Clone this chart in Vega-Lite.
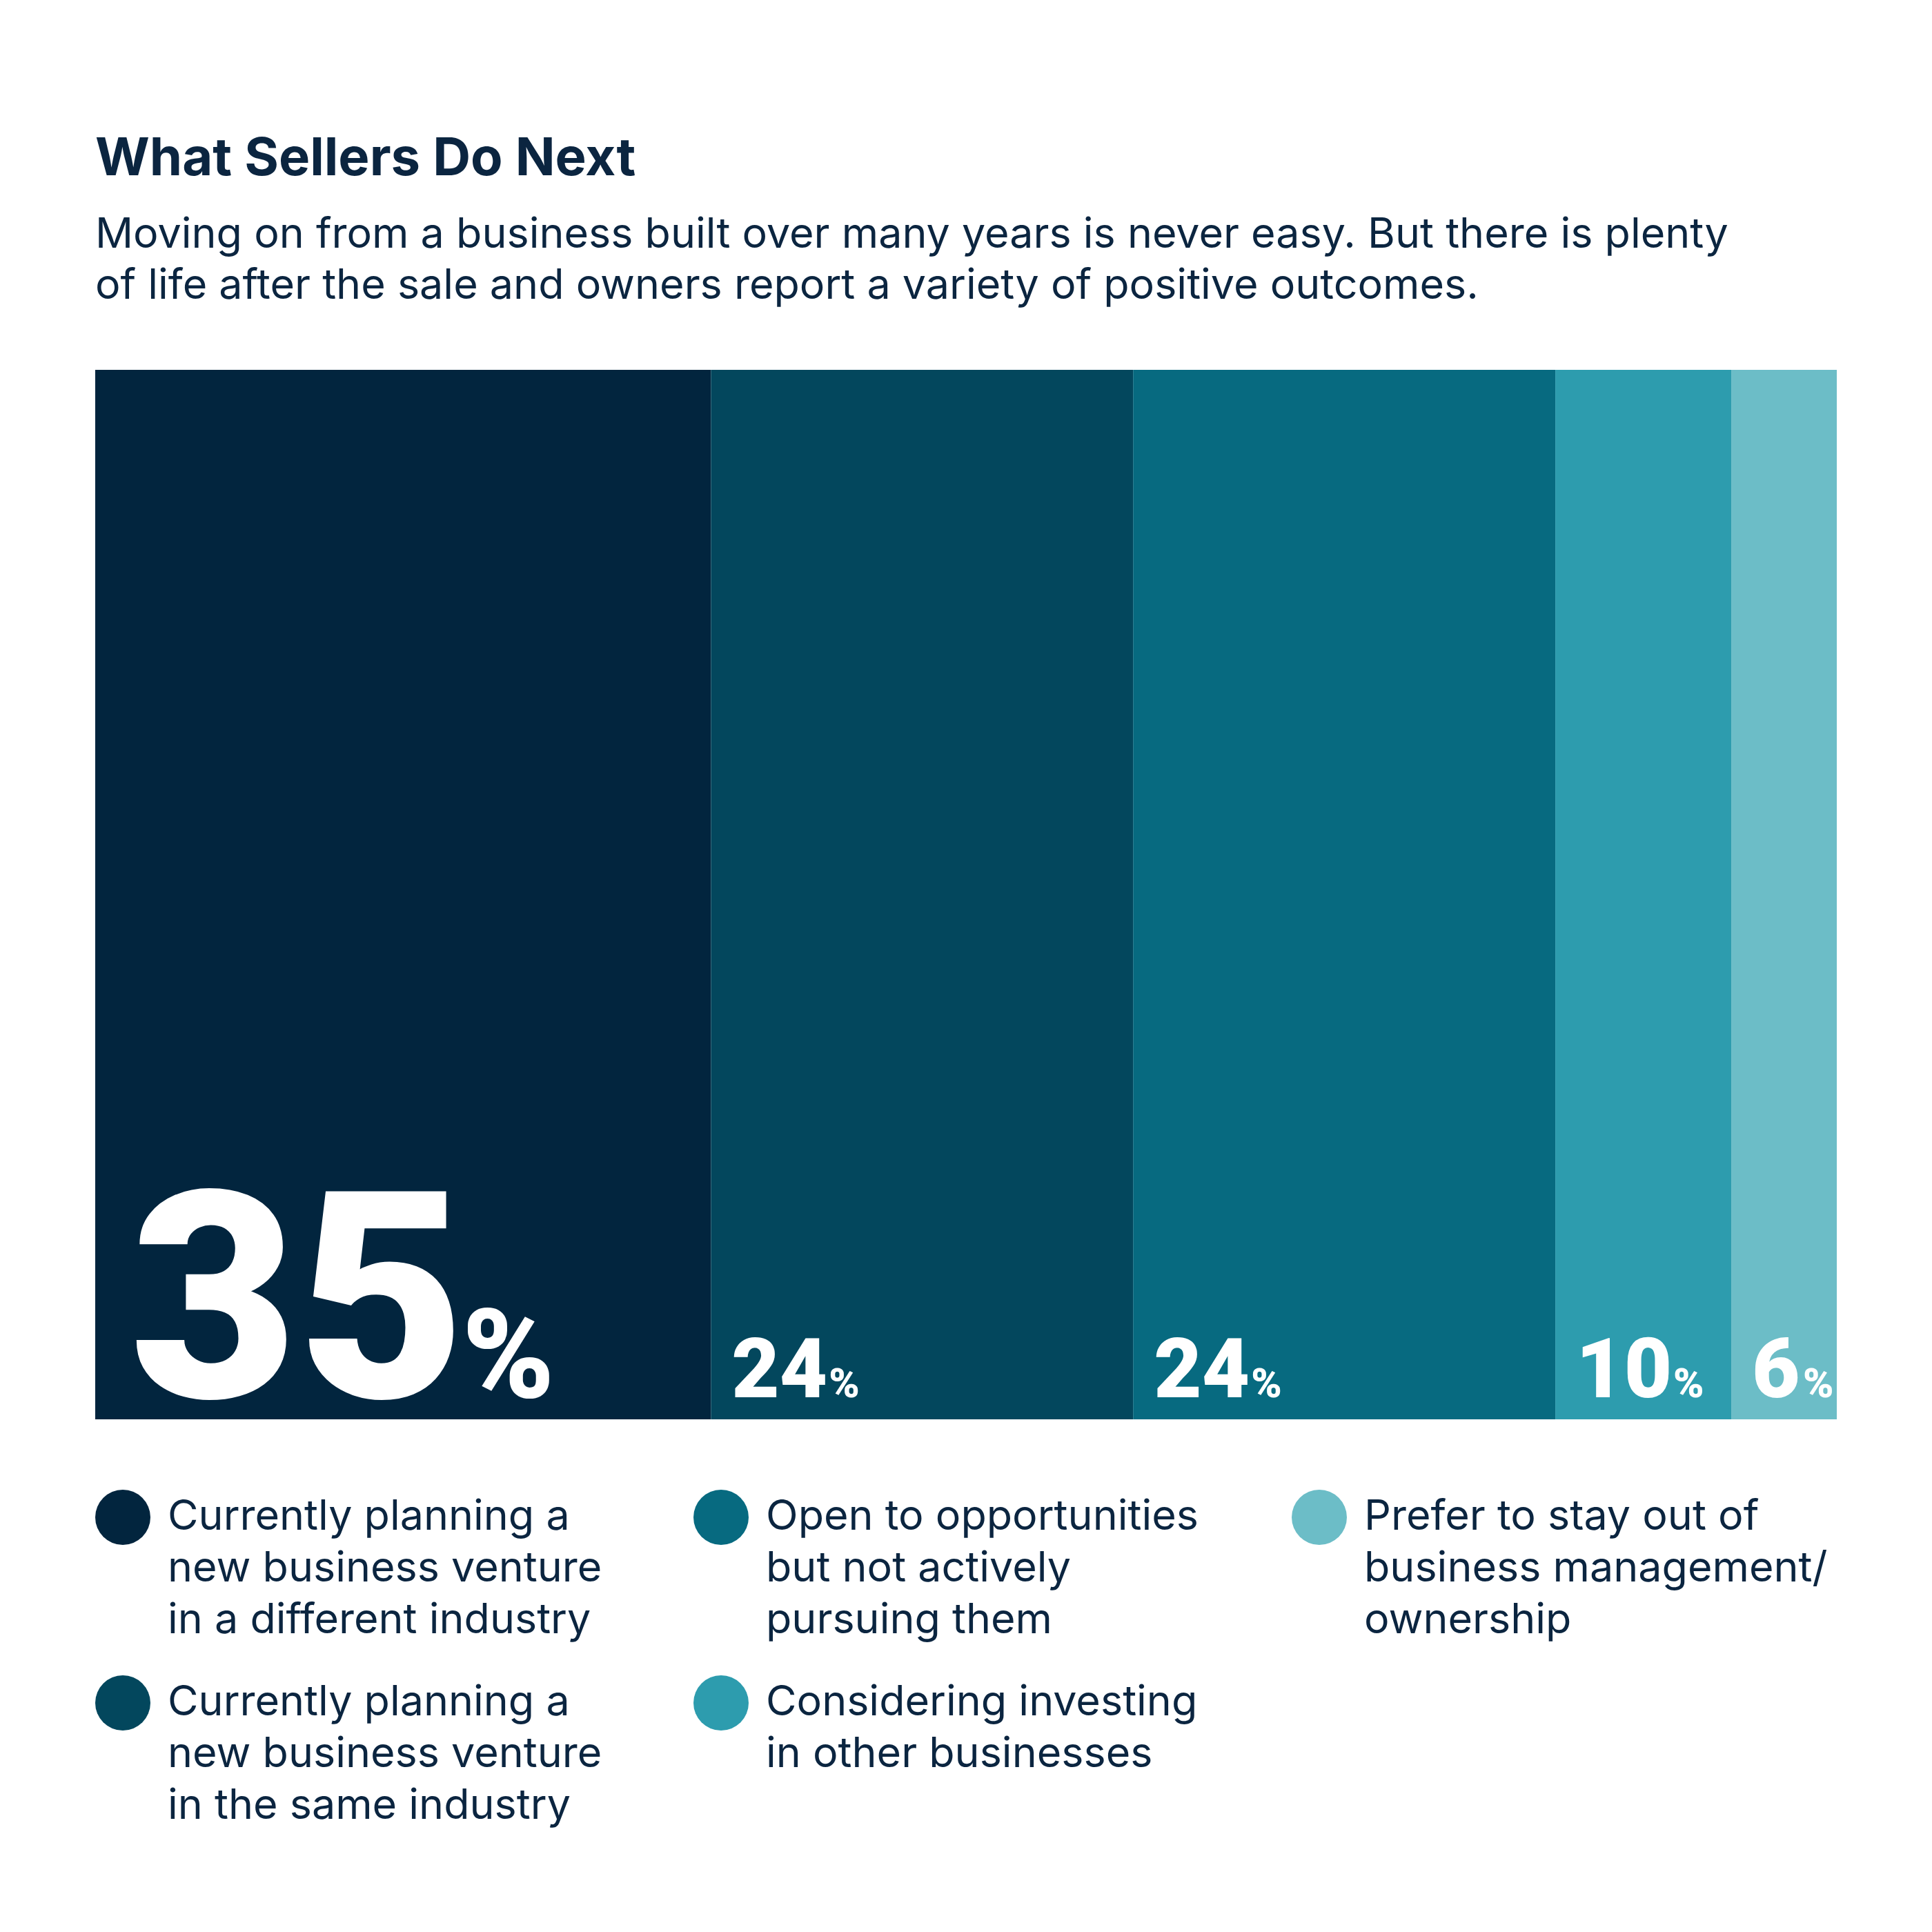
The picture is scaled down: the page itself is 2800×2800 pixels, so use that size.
{
  "$schema": "https://vega.github.io/schema/vega-lite/v6.json",
  "width": 2524,
  "height": 1521,
  "autosize": {"type": "none"},
  "padding": {"left": 138, "top": 536, "right": 138, "bottom": 743},
  "background": "white",
  "title": {
    "text": "What Sellers Do Next",
    "subtitle": [
      "Moving on from a business built over many years is never easy. But there is plenty",
      "of life after the sale and owners report a variety of positive outcomes."
    ],
    "anchor": "start",
    "frame": "group",
    "orient": "top",
    "font": "Inter",
    "fontSize": 76,
    "fontWeight": "bold",
    "color": "#0B2540",
    "subtitleFont": "Inter",
    "subtitleFontSize": 61,
    "subtitleColor": "#0B2540",
    "subtitleLineHeight": 74,
    "subtitlePadding": 41,
    "offset": 90
  },
  "data": {
    "values": [
      {"order": 1, "pct": 35, "label": "Currently planning a|new business venture|in a different industry"},
      {"order": 2, "pct": 24, "label": "Currently planning a|new business venture|in the same industry"},
      {"order": 3, "pct": 24, "label": "Open to opportunities|but not actively|pursuing them"},
      {"order": 4, "pct": 10, "label": "Considering investing|in other businesses"},
      {"order": 5, "pct": 6, "label": "Prefer to stay out of|business management/|ownership"}
    ]
  },
  "transform": [
    {"stack": "pct", "groupby": [], "sort": [{"field": "order", "order": "ascending"}], "as": ["x0", "x1"]}
  ],
  "layer": [
    {
      "mark": {"type": "rect"},
      "encoding": {
        "x": {"field": "x0", "type": "quantitative", "scale": {"domain": [0, 99], "nice": false, "zero": false}, "axis": null},
        "x2": {"field": "x1"},
        "color": {
          "field": "label",
          "type": "nominal",
          "scale": {
            "domain": [
              "Currently planning a|new business venture|in a different industry",
              "Open to opportunities|but not actively|pursuing them",
              "Prefer to stay out of|business management/|ownership",
              "Currently planning a|new business venture|in the same industry",
              "Considering investing|in other businesses"
            ],
            "range": ["#02253E", "#076A80", "#6CBDC7", "#03475D", "#2D9CAE"]
          },
          "legend": {
            "title": null,
            "orient": "bottom",
            "direction": "horizontal",
            "columns": 3,
            "offset": 102,
            "padding": 0,
            "symbolType": "circle",
            "symbolSize": 6400,
            "symbolStrokeWidth": 0,
            "symbolOpacity": 1,
            "labelFont": "Inter",
            "labelFontSize": 61,
            "labelColor": "#0B2540",
            "labelLimit": 2000,
            "labelOffset": 25,
            "labelBaseline": "alphabetic",
            "rowPadding": 49,
            "columnPadding": 90,
            "gridAlign": "all",
            "labelExpr": "split(datum.label, '|')"
          }
        }
      }
    },
    {
      "transform": [{"filter": "datum.pct >= 30"}],
      "mark": {"type": "text", "align": "left", "baseline": "alphabetic", "dx": 50, "dy": -32, "fontSize": 420, "font": "Roboto", "fontWeight": 900, "fill": "white"},
      "encoding": {
        "x": {"field": "x0", "type": "quantitative"},
        "y": {"datum": 0, "type": "quantitative", "scale": {"domain": [0, 1]}, "axis": null},
        "text": {"field": "pct", "type": "quantitative"}
      }
    },
    {
      "transform": [{"filter": "datum.pct >= 30"}],
      "mark": {"type": "text", "align": "left", "baseline": "alphabetic", "dx": 532, "dy": -32, "fontSize": 180, "font": "Roboto", "fontWeight": 900, "fill": "white", "text": "%"},
      "encoding": {
        "x": {"field": "x0", "type": "quantitative"},
        "y": {"datum": 0, "type": "quantitative"}
      }
    },
    {
      "transform": [{"filter": "datum.pct < 30"}],
      "mark": {"type": "text", "align": "left", "baseline": "alphabetic", "dx": 30, "dy": -32, "fontSize": 120, "font": "Roboto", "fontWeight": 900, "fill": "white"},
      "encoding": {
        "x": {"field": "x0", "type": "quantitative"},
        "y": {"datum": 0, "type": "quantitative"},
        "text": {"field": "pct", "type": "quantitative"}
      }
    },
    {
      "transform": [{"filter": "datum.pct < 30"}],
      "mark": {"type": "text", "align": "left", "baseline": "alphabetic", "dx": {"expr": "datum.pct >= 10 ? 171 : 104"}, "dy": -32, "fontSize": 60, "font": "Roboto", "fontWeight": 900, "fill": "white", "text": "%"},
      "encoding": {
        "x": {"field": "x0", "type": "quantitative"},
        "y": {"datum": 0, "type": "quantitative"}
      }
    }
  ],
  "config": {
    "view": {"stroke": null},
    "style": {"guide-label": {"dy": 18, "lineHeight": 75}}
  }
}
